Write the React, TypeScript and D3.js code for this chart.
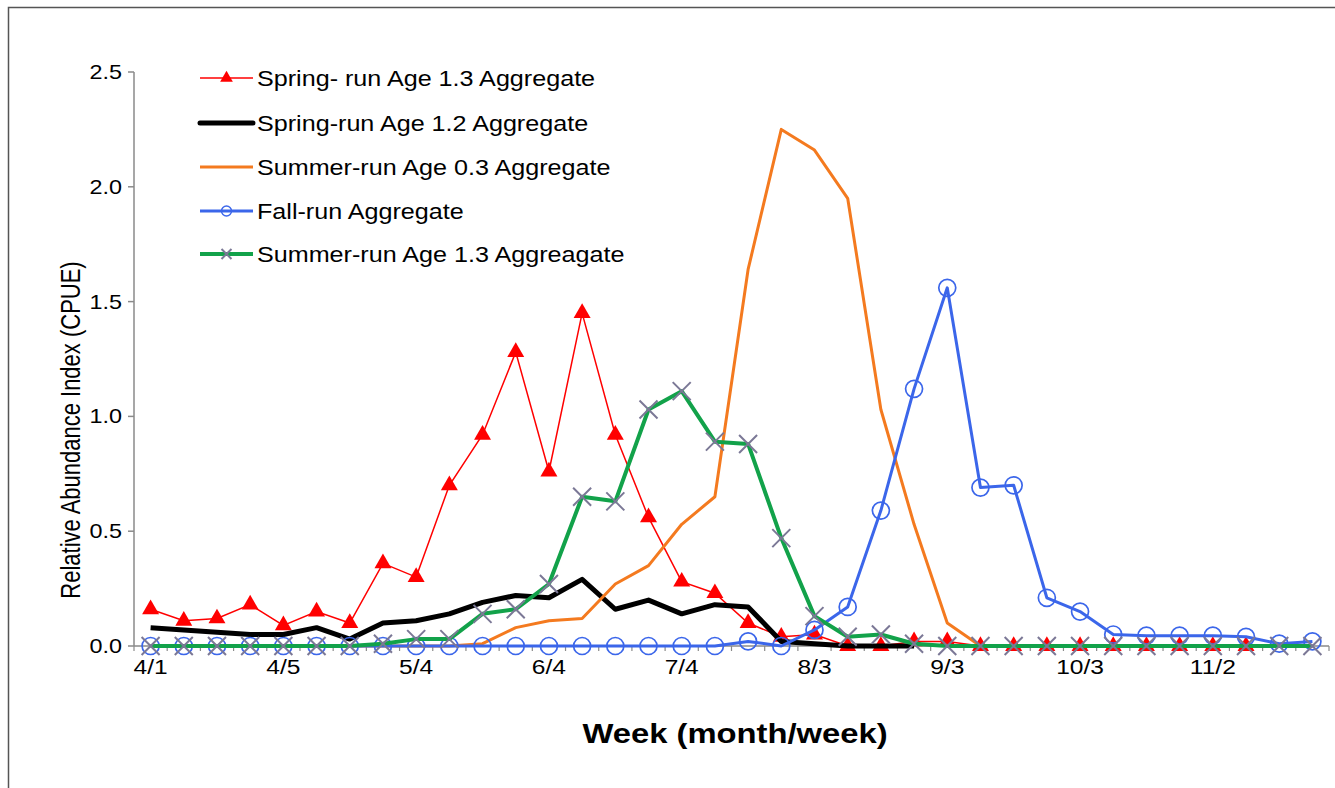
import React from "react";
import * as d3 from "d3";

const weekLabels: string[] = [
  "4/1", "", "", "", "4/5", "", "", "", "5/4", "", "", "", "6/4", "", "", "",
  "7/4", "", "", "", "8/3", "", "", "", "9/3", "", "", "", "10/3", "", "", "",
  "11/2", "", "", "",
];

const springRun13: number[] = [
  0.16, 0.11, 0.12, 0.18, 0.09, 0.15, 0.10, 0.36, 0.30, 0.70, 0.92, 1.28, 0.76, 1.45, 0.92, 0.56,
  0.28, 0.23, 0.10, 0.04, 0.05, 0.00, 0.00, 0.02, 0.02, 0, 0, 0, 0, 0, 0, 0, 0, 0,
];

const springRun12: number[] = [
  0.08, 0.07, 0.06, 0.05, 0.05, 0.08, 0.03, 0.10, 0.11, 0.14, 0.19, 0.22, 0.21, 0.29, 0.16, 0.20,
  0.14, 0.18, 0.17, 0.02, 0.01, 0.0, 0.0, 0.0,
];

const summerRun03: number[] = [
  0, 0, 0, 0, 0, 0, 0, 0, 0, 0, 0.01, 0.08, 0.11, 0.12, 0.27, 0.35,
  0.53, 0.65, 1.64, 2.25, 2.16, 1.95, 1.03, 0.53, 0.10, 0, 0, 0, 0, 0, 0, 0,
  0, 0, 0, 0,
];

const fallRun: number[] = [
  0, 0, 0, 0, 0, 0, 0, 0, 0, 0, 0, 0, 0, 0, 0, 0,
  0, 0, 0.02, 0.0, 0.07, 0.17, 0.59, 1.12, 1.56, 0.69, 0.70, 0.21, 0.15, 0.05, 0.045, 0.045,
  0.045, 0.04, 0.01, 0.02,
];

const summerRun13: number[] = [
  0, 0, 0, 0, 0, 0, 0, 0.01, 0.03, 0.03, 0.14, 0.16, 0.27, 0.65, 0.63, 1.03,
  1.11, 0.89, 0.88, 0.47, 0.13, 0.04, 0.05, 0.01, 0, 0, 0, 0, 0, 0, 0, 0,
  0, 0, 0, 0,
];

const yTicks: number[] = [0, 0.5, 1.0, 1.5, 2.0, 2.5];

const legendNames: string[] = [
  "Spring- run Age 1.3 Aggregate",
  "Spring-run Age 1.2 Aggregate",
  "Summer-run Age 0.3 Aggregate",
  "Fall-run Aggregate",
  "Summer-run Age 1.3 Aggreagate",
];

const RED = "#ff0000";
const BLACK = "#000000";
const ORANGE = "#f47a1f";
const BLUE = "#3b66ea";
const GREEN = "#12a24a";
const XMARK = "#7b7896";
const AXIS = "#8a8a8a";
const FONT = "'Liberation Sans', Arial, sans-serif";
const SX = 1.17;

const W = 1335;
const H = 788;
const left = 134;
const right = 1329;
const top = 72;
const bottom = 646;

export default function App() {
  const idx = d3.range(weekLabels.length);
  const xb = d3.scaleBand<number>().domain(idx).range([left, right]).padding(0);
  const x = (i: number) => (xb(i) as number) + xb.bandwidth() / 2;
  const y = d3.scaleLinear().domain([0, 2.5]).range([bottom, top]);

  const line = d3
    .line<number>()
    .x((_, i) => x(i))
    .y((d) => y(d));

  const tri = d3.symbol().type(d3.symbolTriangle).size(125)() as string;
  const triSmall = d3.symbol().type(d3.symbolTriangle).size(70)() as string;

  const xMark = (cx: number, cy: number, s: number, key: string | number) => (
    <path
      key={key}
      d={`M${cx - s},${cy - s}L${cx + s},${cy + s}M${cx - s},${cy + s}L${cx + s},${cy - s}`}
      stroke={XMARK}
      strokeWidth={2}
      fill="none"
    />
  );

  const legendY = [78, 123, 167, 211, 254];
  const lx0 = 200;
  const lx1 = 253;
  const lxm = (lx0 + lx1) / 2;

  const stretchText = (
    tx: number,
    ty: number,
    text: string,
    size: number,
    anchor: string,
    weight: string | number = "normal",
    key?: string | number
  ) => (
    <g key={key} transform={`translate(${tx},${ty}) scale(${SX},1)`}>
      <text
        x={0}
        y={0}
        fontSize={size}
        fontFamily={FONT}
        fontWeight={weight}
        textAnchor={anchor}
        fill="#000"
      >
        {text}
      </text>
    </g>
  );

  return (
    <svg
      width={W}
      height={H}
      style={{ position: "absolute", left: 0, top: 0, background: "#fff" }}
    >
      <rect x={0} y={0} width={W} height={H} fill="#fff" />
      <rect x={8.5} y={7.5} width={W} height={H} fill="none" stroke="#555" strokeWidth={1.5} />

      {/* y axis */}
      <line x1={left} x2={left} y1={top} y2={bottom} stroke={AXIS} strokeWidth={1.5} />
      {yTicks.map((t) => (
        <g key={"yt" + t}>
          <line x1={left - 6} x2={left} y1={y(t)} y2={y(t)} stroke={AXIS} strokeWidth={1.5} />
          {stretchText(left - 12, y(t) + 7, t.toFixed(1), 20, "end", "normal")}
        </g>
      ))}

      {/* x axis */}
      <line x1={left} x2={right} y1={bottom} y2={bottom} stroke={AXIS} strokeWidth={1.5} />
      {idx.concat([weekLabels.length]).map((i) => {
        const xx = i < weekLabels.length ? (xb(i) as number) : right;
        return (
          <line key={"xt" + i} x1={xx} x2={xx} y1={bottom} y2={bottom + 5} stroke={AXIS} strokeWidth={1.2} />
        );
      })}
      {weekLabels.map((lab, i) =>
        lab ? stretchText(x(i), bottom + 28, lab, 21, "middle", "normal", "xl" + i) : null
      )}

      {/* axis titles */}
      {stretchText(735, 743, "Week (month/week)", 28, "middle", "bold")}
      <g transform={`translate(80,${(top + bottom) / 2 + 71}) scale(1.25,1) rotate(-90)`}>
        <text x={0} y={0} fontSize={22} fontFamily={FONT} textAnchor="middle" fill="#000">
          Relative Abundance Index (CPUE)
        </text>
      </g>

      {/* series: red spring 1.3 */}
      <path d={line(springRun13) as string} fill="none" stroke={RED} strokeWidth={1.5} />
      {springRun13.map((v, i) => (
        <path key={"r" + i} d={tri} transform={`translate(${x(i)},${y(v)})`} fill={RED} />
      ))}

      {/* black spring 1.2 */}
      <path
        d={line(springRun12) as string}
        fill="none"
        stroke={BLACK}
        strokeWidth={5}
        strokeLinejoin="round"
      />

      {/* orange summer 0.3 */}
      <path d={line(summerRun03) as string} fill="none" stroke={ORANGE} strokeWidth={3} strokeLinejoin="round" />

      {/* blue fall */}
      <path d={line(fallRun) as string} fill="none" stroke={BLUE} strokeWidth={3} strokeLinejoin="round" />
      {fallRun.map((v, i) => (
        <circle key={"b" + i} cx={x(i)} cy={y(v)} r={8.5} fill="none" stroke={BLUE} strokeWidth={1.7} />
      ))}

      {/* green summer 1.3 */}
      <path d={line(summerRun13) as string} fill="none" stroke={GREEN} strokeWidth={4} strokeLinejoin="round" />
      {summerRun13.map((v, i) => xMark(x(i), y(v), 9, "g" + i))}

      {/* legend */}
      <g>
        <line x1={lx0} x2={lx1} y1={legendY[0]} y2={legendY[0]} stroke={RED} strokeWidth={1.5} />
        <path d={triSmall} transform={`translate(${lxm},${legendY[0]})`} fill={RED} />
        <line x1={lx0} x2={lx1} y1={legendY[1]} y2={legendY[1]} stroke={BLACK} strokeWidth={5} strokeLinecap="round" />
        <line x1={lx0} x2={lx1} y1={legendY[2]} y2={legendY[2]} stroke={ORANGE} strokeWidth={3} />
        <line x1={lx0} x2={lx1} y1={legendY[3]} y2={legendY[3]} stroke={BLUE} strokeWidth={3} />
        <circle cx={lxm} cy={legendY[3]} r={5} fill="none" stroke={BLUE} strokeWidth={1.4} />
        <line x1={lx0} x2={lx1} y1={legendY[4]} y2={legendY[4]} stroke={GREEN} strokeWidth={4} />
        {xMark(lxm, legendY[4], 5, "lgx")}
        {legendNames.map((n, i) => stretchText(257, legendY[i] + 8, n, 21.5, "start", "normal", "ln" + i))}
      </g>
    </svg>
  );
}
